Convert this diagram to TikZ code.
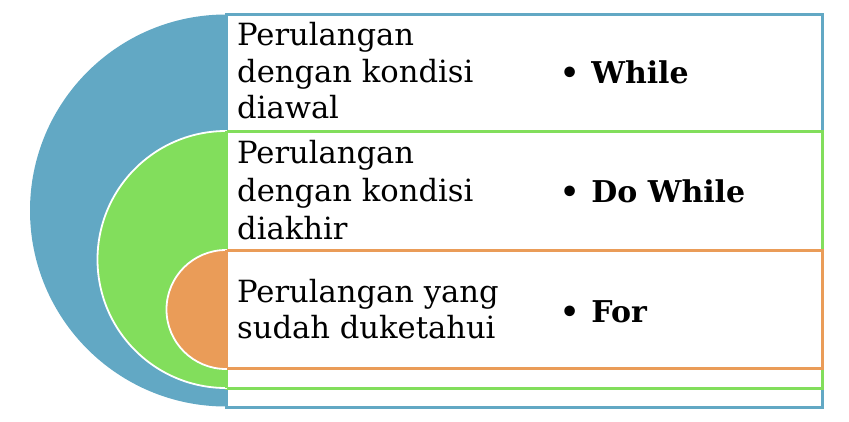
\documentclass[tikz,border=0pt]{standalone}
\usepackage{fontspec}
\setmainfont{DejaVu Serif}
\definecolor{cblue}{RGB}{98,168,196}
\definecolor{cgreen}{RGB}{130,222,92}
\definecolor{corange}{RGB}{234,156,88}
\begin{document}
\begin{tikzpicture}[x=1pt,y=-1pt,
  txt/.style={anchor=base west,inner sep=0pt,font=\fontsize{30.6}{36}\selectfont},
  btxt/.style={anchor=base west,inner sep=0pt,font=\fontsize{30}{36}\selectfont\bfseries},
  box/.style={line width=3pt}]
\useasboundingbox (0,0) rectangle (849,421);
% blue
\draw[box,cblue] (226,14) rectangle (822,407);
\fill[cblue] (226,14.5) arc[start angle=-90,end angle=-270,radius=196] -- cycle;
% green
\draw[box,cgreen] (226,131) rectangle (822,388);
\filldraw[cgreen,draw=white,line width=1.8pt] (226,131) arc[start angle=-90,end angle=-270,radius=128.5] -- cycle;
\draw[cgreen,line width=3pt] (226,131) -- (226,388);
% orange
\draw[box,corange] (226,250) rectangle (822,368);
\filldraw[corange,draw=white,line width=1.8pt] (226,250) arc[start angle=-90,end angle=-270,radius=59.5] -- cycle;
\draw[corange,line width=3pt] (226,250) -- (226,368);
% texts
\node[txt] (a1) at (237,45) {Perulangan};
\node[txt] (a2) at (237,82) {dengan kondisi};
\node[txt] (a3) at (237,118) {diawal};
\node[txt] (b1) at (237,163) {Perulangan};
\node[txt] (b2) at (237,201) {dengan kondisi};
\node[txt] (b3) at (237,239) {diakhir};
\node[txt] (c1) at (237,302) {Perulangan yang};
\node[txt] (c2) at (237,338) {sudah duketahui};
\node[btxt] (w) at (560,83) {\textbullet\hspace{0.4em}While};
\node[btxt] (d) at (560,202) {\textbullet\hspace{0.4em}Do While};
\node[btxt] (f) at (560,322) {\textbullet\hspace{0.4em}For};
\end{tikzpicture}
\end{document}
